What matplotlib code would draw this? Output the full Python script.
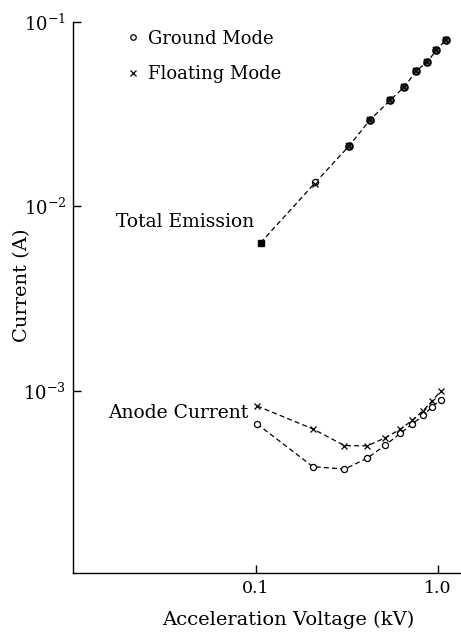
import numpy as np
import matplotlib.pyplot as plt

plt.rcParams['font.family'] = 'DejaVu Serif'
plt.rcParams['mathtext.fontset'] = 'dejavuserif'

# total emission (ground and floating modes coincide)
v_tot = [0.1065, 0.213, 0.326, 0.422, 0.548, 0.654, 0.761, 0.871, 0.979, 1.10]
i_tot_gnd = [6.35e-3, 1.35e-2, 2.13e-2, 2.93e-2, 3.77e-2, 4.45e-2, 5.43e-2, 6.05e-2, 7.03e-2, 7.96e-2]
i_tot_flt = [6.35e-3, 1.32e-2, 2.13e-2, 2.93e-2, 3.77e-2, 4.45e-2, 5.43e-2, 6.05e-2, 7.03e-2, 7.96e-2]

# anode current
v_an = [0.102, 0.206, 0.307, 0.409, 0.515, 0.622, 0.721, 0.829, 0.929, 1.034]
i_an_gnd = [6.64e-4, 3.90e-4, 3.78e-4, 4.33e-4, 5.11e-4, 5.91e-4, 6.63e-4, 7.38e-4, 8.24e-4, 8.96e-4]
i_an_flt = [8.31e-4, 6.24e-4, 5.07e-4, 5.05e-4, 5.59e-4, 6.22e-4, 6.94e-4, 7.84e-4, 8.85e-4, 1.0e-3]

W, H = 461, 633
fig = plt.figure(figsize=(W / 100, H / 100), dpi=100)
ax = fig.add_axes([73 / W, (H - 573) / H, 1 - 73 / W, (573 - 21.8) / H])

dash = dict(color='black', lw=0.9, dashes=(4, 2.5))
mk_o = dict(marker='o', ms=4.4, mfc='white', mec='black', mew=0.9, ls='none')
mk_x = dict(marker='x', ms=4.4, mec='black', mew=0.9, ls='none')

ax.plot(v_tot, i_tot_gnd, **dash)
# where the two modes overlap the symbols merge into dark dots
ax.plot(v_tot[2:], i_tot_gnd[2:], marker='o', ms=5, mfc='0.35', mec='black', mew=1.2, ls='none')
ax.plot(v_tot[2:], i_tot_flt[2:], marker='x', ms=4.2, mec='black', mew=1.1, ls='none')
ax.plot(v_tot[1:2], i_tot_gnd[1:2], **mk_o)
ax.plot(v_tot[1:2], i_tot_flt[1:2], **mk_x)
ax.plot(v_tot[:1], i_tot_gnd[:1], marker='s', ms=4, color='black', ls='none')

ax.plot(v_an, i_an_gnd, **dash)
ax.plot(v_an, i_an_flt, **dash)
ax.plot(v_an, i_an_gnd, label='Ground Mode', **mk_o)
ax.plot(v_an, i_an_flt, label='Floating Mode', **mk_x)

ax.set_xscale('log')
ax.set_yscale('log')
ax.set_xlim(0.01, 1.335)
ax.set_ylim(1.035e-4, 0.1)

ax.spines['top'].set_visible(False)
ax.spines['right'].set_visible(False)
for s in ('left', 'bottom'):
    ax.spines[s].set_linewidth(1.0)

ax.set_xticks([0.1, 1.0])
ax.set_xticklabels(['0.1', '1.0'], fontsize=12.5)
ax.set_yticks([1e-3, 1e-2, 1e-1])
ax.set_yticklabels([r'$10^{-3}$', r'$10^{-2}$', r'$10^{-1}$'], fontsize=13)
ax.minorticks_off()
ax.tick_params(direction='in', length=6, width=1.0, pad=5)

ax.text(0.0985, 8.2e-3, 'Total Emission', fontsize=13.5, ha='right', va='center')
ax.text(0.0915, 7.6e-4, 'Anode Current', fontsize=13.5, ha='right', va='center')

ax.legend(loc='upper left', bbox_to_anchor=(0.1, 1.015), frameon=False,
          fontsize=13, handlelength=0.6, handletextpad=0.5, labelspacing=0.95,
          markerscale=0.9)

fig.text(22 / W, 1 - 285 / H, 'Current (A)', rotation=90, fontsize=14,
         ha='center', va='center')
fig.text(288 / W, 1 - 620 / H, 'Acceleration Voltage (kV)', fontsize=14,
         ha='center', va='center')

fig.savefig('out.png', dpi=100)
